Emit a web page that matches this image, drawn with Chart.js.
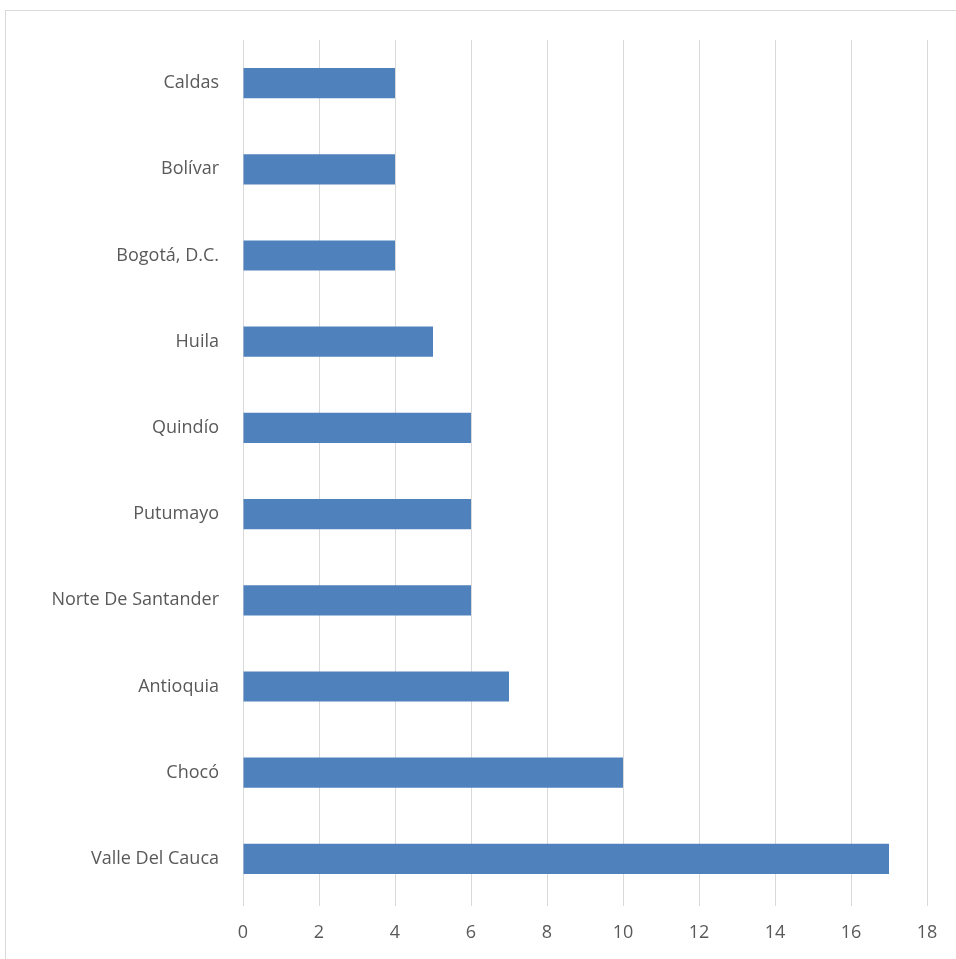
<!DOCTYPE html>
<html>
<head>
<meta charset="utf-8">
<script src="https://cdn.jsdelivr.net/npm/chart.js@4"></script>
<style>
  html, body { margin: 0; padding: 0; background: #fff; overflow: hidden; }
  #frame { position: absolute; left: 5px; top: 10px; width: 1000px; height: 1000px; border: 1px solid #d9d9d9; }
  #wrap { position: absolute; left: 0; top: 0; width: 956px; height: 959px; }
</style>
</head>
<body>
<div id="frame"></div>
<div id="wrap"><canvas id="deptChart"></canvas></div>
<script>
// Departamentos y número de casos
const categories = ['Caldas', 'Bolívar', 'Bogotá, D.C.', 'Huila', 'Quindío', 'Putumayo',
  'Norte De Santander', 'Antioquia', 'Chocó', 'Valle Del Cauca'];
const values = [4, 4, 4, 5, 6, 6, 6, 7, 10, 17];
const xTicks = [0, 2, 4, 6, 8, 10, 12, 14, 16, 18];

const ctx = document.getElementById('deptChart').getContext('2d');
new Chart(ctx, {
  type: 'bar',
  data: {
    labels: categories,
    datasets: [{
      data: values,
      backgroundColor: '#4f81bd',
      borderWidth: 0,
      categoryPercentage: 0.35,
      barPercentage: 1
    }]
  },
  options: {
    indexAxis: 'y',
    responsive: true,
    maintainAspectRatio: false,
    animation: false,
    layout: { padding: { top: 40, right: 29, left: 0, bottom: 0 } },
    plugins: { legend: { display: false }, tooltip: { enabled: false } },
    scales: {
      x: {
        min: xTicks[0], max: xTicks[xTicks.length - 1],
        afterBuildTicks: axis => { axis.ticks = xTicks.map(v => ({ value: v })); },
        afterFit: axis => { axis.height = 57; },
        border: { display: false },
        grid: { color: '#d9d9d9', lineWidth: 1, drawTicks: true, tickLength: 4 },
        ticks: { color: '#595959', padding: 16, font: { family: 'Open Sans', size: 18 } }
      },
      y: {
        afterFit: axis => { axis.width = 243; },
        border: { display: false },
        grid: { display: false },
        ticks: { color: '#595959', padding: 16, font: { family: 'Open Sans', size: 18 } }
      }
    }
  }
});
</script>
</body>
</html>
